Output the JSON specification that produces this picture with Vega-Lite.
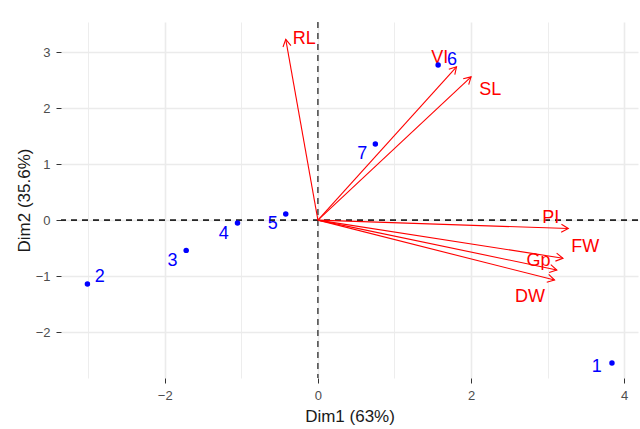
{
  "$schema": "https://vega.github.io/schema/vega-lite/v6.json",
  "width": 577,
  "height": 356,
  "autosize": {"type": "none"},
  "padding": {"left": 61, "top": 22, "right": 2, "bottom": 51},
  "background": "white",
  "config": {
    "view": {"stroke": null},
    "font": "Liberation Sans",
    "axis": {
      "domain": false,
      "gridColor": "#EBEBEB",
      "tickColor": "#333333",
      "tickSize": 5,
      "labelColor": "#4D4D4D",
      "labelFontSize": 13,
      "labelFont": "Liberation Sans",
      "labelOverlap": false,
      "titleFont": "Liberation Sans",
      "titleFontSize": 17,
      "titleFontWeight": "normal",
      "titleColor": "#1A1A1A"
    }
  },
  "resolve": {"axis": {"y": "independent"}},
  "datasets": {
    "ind": [
      {"name": "1", "x": 3.84, "y": -2.55, "lx": 3.64, "ly": -2.62},
      {"name": "2", "x": -3.01, "y": -1.14, "lx": -2.85, "ly": -1.02},
      {"name": "3", "x": -1.72, "y": -0.54, "lx": -1.90, "ly": -0.73},
      {"name": "4", "x": -1.05, "y": -0.05, "lx": -1.23, "ly": -0.24},
      {"name": "5", "x": -0.42, "y": 0.11, "lx": -0.59, "ly": -0.07},
      {"name": "6", "x": 1.57, "y": 2.77, "lx": 1.75, "ly": 2.87},
      {"name": "7", "x": 0.75, "y": 1.36, "lx": 0.58, "ly": 1.18}
    ],
    "var": [
      {"name": "RL", "x": -0.42, "y": 3.23, "lx": -0.18, "ly": 3.23},
      {"name": "VI", "x": 1.81, "y": 2.74, "lx": 1.59, "ly": 2.89},
      {"name": "SL", "x": 2.0, "y": 2.56, "lx": 2.25, "ly": 2.32},
      {"name": "PI", "x": 3.27, "y": -0.15, "lx": 3.04, "ly": 0.03},
      {"name": "FW", "x": 3.20, "y": -0.68, "lx": 3.49, "ly": -0.48},
      {"name": "Gp", "x": 3.12, "y": -0.89, "lx": 2.88, "ly": -0.73},
      {"name": "DW", "x": 3.09, "y": -1.07, "lx": 2.77, "ly": -1.37}
    ]
  },
  "layer": [
    {
      "data": {"values": [{"v": 0}]},
      "mark": {"type": "rule", "color": "#1A1A1A", "strokeWidth": 1.2, "strokeDash": [6, 5]},
      "encoding": {
        "x": {
          "field": "v",
          "type": "quantitative",
          "scale": {"domain": [-3.355, 4.18], "nice": false, "zero": false},
          "axis": {
            "title": "Dim1 (63%)",
            "values": [-3, -2, -1, 0, 1, 2, 3, 4],
            "format": "d",
            "labelExpr": "datum.value % 2 === 0 ? datum.label : ''",
            "tickOpacity": {"condition": {"test": "datum.value % 2 === 0", "value": 1}, "value": 0},
            "gridWidth": {"condition": {"test": "datum.value % 2 === 0", "value": 1.6}, "value": 0.9},
            "labelPadding": 6,
            "titlePadding": 6
          }
        }
      }
    },
    {
      "data": {"values": [{"v": 0}]},
      "mark": {"type": "rule", "color": "#1A1A1A", "strokeWidth": 1.2, "strokeDash": [6, 5]},
      "encoding": {
        "y": {
          "field": "v",
          "type": "quantitative",
          "scale": {"domain": [-2.82, 3.54], "nice": false, "zero": false},
          "axis": {
            "title": "Dim2 (35.6%)",
            "orient": "left",
            "values": [-2, -1, 0, 1, 2, 3],
            "format": "d",
            "gridWidth": 1.6,
            "labelPadding": 6,
            "titlePadding": 2
          }
        }
      }
    },
    {
      "data": {"values": [{"v": 0}]},
      "mark": {"type": "rule", "color": "#1A1A1A", "strokeWidth": 1.2, "strokeDash": [6, 5]},
      "encoding": {
        "y": {
          "field": "v",
          "type": "quantitative",
          "axis": {
            "title": null,
            "orient": "right",
            "values": [-2.5, -1.5, -0.5, 0.5, 1.5, 2.5, 3.5],
            "labels": false,
            "ticks": false,
            "gridWidth": 0.9
          }
        }
      }
    },
    {
      "data": {"name": "var"},
      "mark": {"type": "rule", "color": "#FF0000", "strokeWidth": 1.1},
      "encoding": {
        "x": {"field": "x", "type": "quantitative"},
        "y": {"field": "y", "type": "quantitative", "axis": null},
        "x2": {"datum": 0},
        "y2": {"datum": 0}
      }
    },
    {
      "data": {"name": "var"},
      "transform": [
        {"calculate": "atan2(76.58 * datum.x, 55.97 * datum.y) * 180 / PI", "as": "ang"}
      ],
      "mark": {
        "type": "point",
        "shape": "M-0.5,0.87L0,0L0.5,0.87",
        "filled": false,
        "stroke": "#FF0000",
        "strokeWidth": 1.1,
        "size": 260,
        "opacity": 1
      },
      "encoding": {
        "x": {"field": "x", "type": "quantitative"},
        "y": {"field": "y", "type": "quantitative", "axis": null},
        "angle": {"field": "ang", "type": "quantitative", "scale": null}
      }
    },
    {
      "data": {"name": "var"},
      "mark": {"type": "text", "color": "#FF0000", "fontSize": 18, "font": "Liberation Sans"},
      "encoding": {
        "x": {"field": "lx", "type": "quantitative"},
        "y": {"field": "ly", "type": "quantitative", "axis": null},
        "text": {"field": "name"}
      }
    },
    {
      "data": {"name": "ind"},
      "mark": {"type": "circle", "color": "#0000FF", "size": 30, "opacity": 1},
      "encoding": {
        "x": {"field": "x", "type": "quantitative"},
        "y": {"field": "y", "type": "quantitative", "axis": null}
      }
    },
    {
      "data": {"name": "ind"},
      "mark": {"type": "text", "color": "#0000FF", "fontSize": 18, "font": "Liberation Sans"},
      "encoding": {
        "x": {"field": "lx", "type": "quantitative"},
        "y": {"field": "ly", "type": "quantitative", "axis": null},
        "text": {"field": "name"}
      }
    }
  ]
}
